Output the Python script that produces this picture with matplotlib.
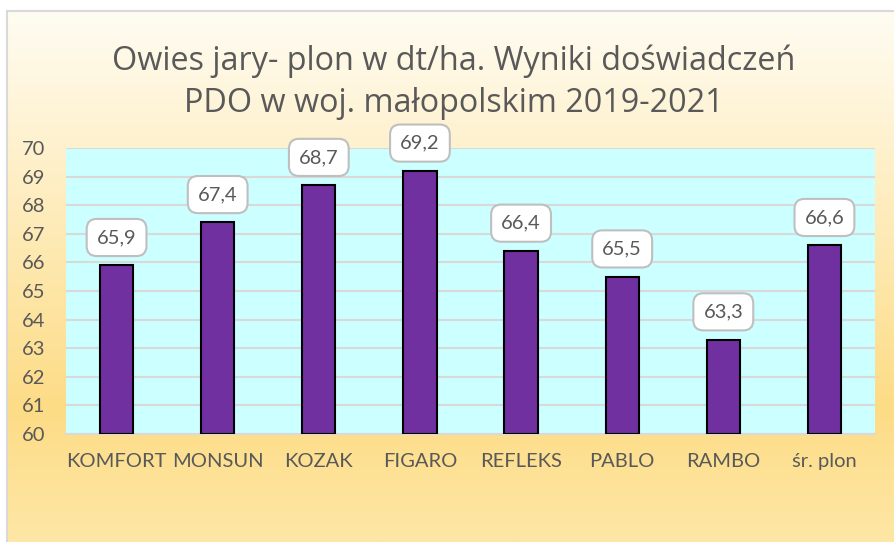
import numpy as np
import matplotlib
matplotlib.use("Agg")
import matplotlib.pyplot as plt
from matplotlib.colors import LinearSegmentedColormap
from matplotlib.patches import Rectangle

categories = ["KOMFORT", "MONSUN", "KOZAK", "FIGARO", "REFLEKS", "PABLO", "RAMBO", "śr. plon"]
values = [65.9, 67.4, 68.7, 69.2, 66.4, 65.5, 63.3, 66.6]
value_labels = ["65,9", "67,4", "68,7", "69,2", "66,4", "65,5", "63,3", "66,6"]
yticks = [60, 61, 62, 63, 64, 65, 66, 67, 68, 69, 70]
title = "Owies jary- plon w dt/ha. Wyniki doświadczeń\nPDO w woj. małopolskim 2019-2021"

plt.rcParams['font.family'] = ['Lato', 'DejaVu Sans']
W, H = 894, 542
fig = plt.figure(figsize=(W / 100, H / 100), dpi=100)
fig.patch.set_facecolor("white")

# background gradient of chart area
bg = fig.add_axes([7 / W, 0, 1 - 7 / W, (H - 11) / H], zorder=0)
cmap = LinearSegmentedColormap.from_list("bg", [(0, "#FFFCF2"), (0.75, "#FDDC86"), (1.0, "#FEE7A6")])
grad = np.linspace(0, 1, 256).reshape(-1, 1)
bg.imshow(grad, aspect="auto", cmap=cmap, extent=[0, 1, 0, 1], origin="upper")
bg.set_xlim(0, 1)
bg.set_ylim(0, 1)
bg.axis("off")
fig.add_artist(Rectangle((7 / W, -0.01), 1.0, (H - 11) / H + 0.01, transform=fig.transFigure,
                         fill=False, edgecolor="#D9D9D9", linewidth=1.5, zorder=1))

ax = fig.add_axes([66 / W, (H - 434) / H, (875 - 66) / W, (434 - 148) / H], zorder=2)
ax.set_facecolor("#CCFFFF")
x = np.arange(len(categories))
ax.bar(x, [v - 60 for v in values], bottom=60, width=0.33, color="#7030A0",
       edgecolor="black", linewidth=1.5, zorder=3)
ax.set_xlim(-0.5, len(categories) - 0.5)
ax.set_ylim(60, 70)
ax.set_yticks(yticks)
ax.set_yticklabels([str(t) for t in yticks])
ax.set_xticks(x)
ax.set_xticklabels(categories)
ax.tick_params(axis="both", length=0, labelsize=14.5, colors="#595959")
ax.tick_params(axis="y", pad=15)
ax.tick_params(axis="x", pad=14)
ax.grid(axis="y", color="#D9D9D9", linewidth=1.5, zorder=1)
ax.set_axisbelow(True)
for s in ["top", "right", "left"]:
    ax.spines[s].set_visible(False)
ax.spines["bottom"].set_color("#D9D9D9")
ax.spines["bottom"].set_linewidth(1.5)

for xi, v, lab in zip(x, values, value_labels):
    ax.annotate(lab, (xi, v), xytext=(0, 20), textcoords="offset points",
                ha="center", va="center", fontsize=14.5, color="#595959", zorder=5,
                bbox=dict(boxstyle="round,pad=0.5,rounding_size=0.5", facecolor="white",
                          edgecolor="#BFBFBF", linewidth=1.5))

fig.text(454 / W, 1 - 82 / H, title, ha="center", va="center", fontsize=23.3,
         family=['Open Sans', 'DejaVu Sans'],
         color="#595959", linespacing=1.38, zorder=3)

fig.savefig("out.png", dpi=100)
